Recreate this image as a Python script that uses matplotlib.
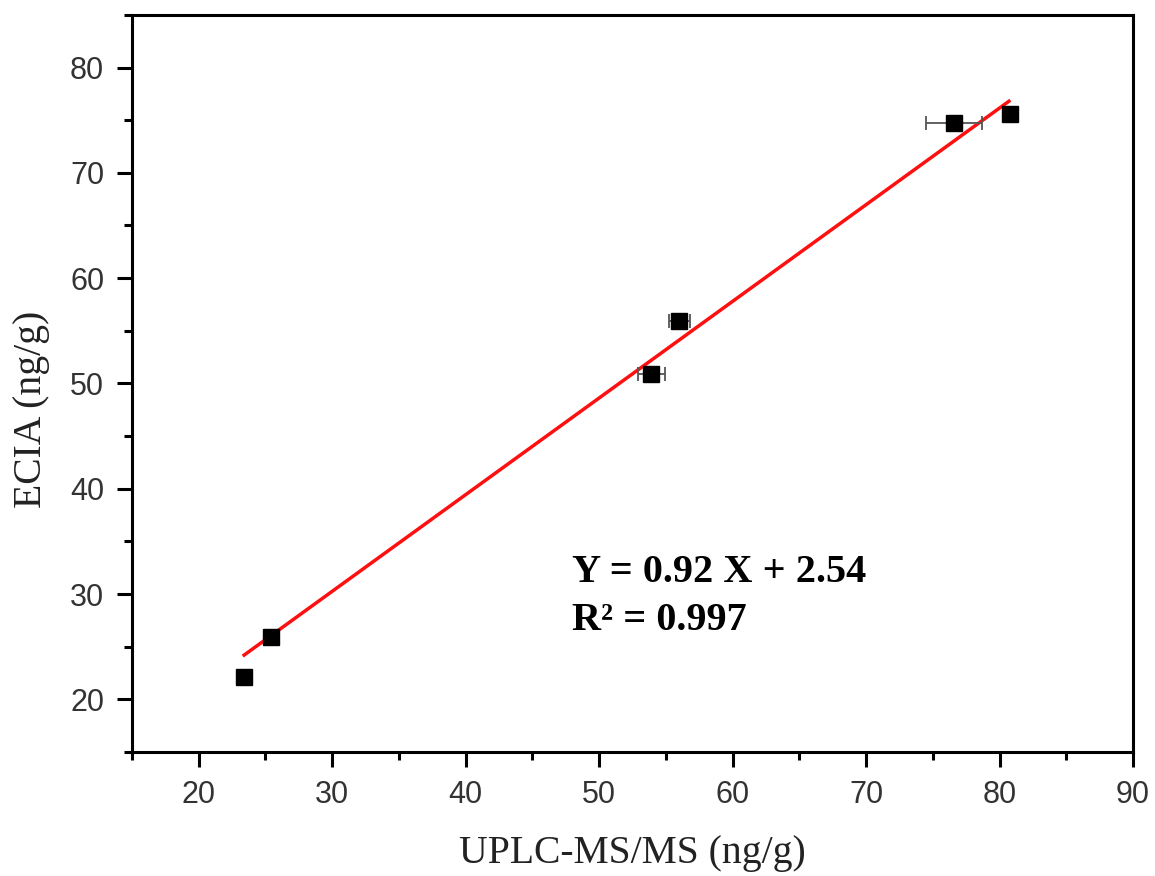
import numpy as np
import matplotlib
matplotlib.use('Agg')
import matplotlib.pyplot as plt
from matplotlib.ticker import MultipleLocator

# UPLC-MS/MS vs ECIA
uplc = [23.4, 25.4, 53.9, 56.0, 76.6, 80.8]
ecia = [22.1, 25.9, 50.9, 55.9, 74.7, 75.6]
uplc_err = [0.0, 0.0, 1.0, 0.8, 2.1, 0.0]
ecia_err = [0.0, 0.0, 0.0, 0.3, 0.0, 0.0]

fit_x = [23.4, 80.7]
fit_y = [24.2, 76.8]

plt.rcParams['font.family'] = ['Liberation Sans', 'DejaVu Sans']
fig = plt.figure(figsize=(11.55, 8.76), dpi=100)
ax = fig.add_axes([0.1143, 0.1416, 0.981 - 0.1143, 0.983 - 0.1416])

ax.plot(fit_x, fit_y, color='#ff1010', lw=2.5, zorder=2)
ax.errorbar(uplc, ecia, xerr=uplc_err, yerr=ecia_err, fmt='s', color='black',
            ms=11.5, ecolor='#555555', elinewidth=1.3, capsize=5, capthick=1.3, zorder=3)

ax.set_xlim(15, 90)
ax.set_ylim(15, 85)
ax.xaxis.set_minor_locator(MultipleLocator(5))
ax.yaxis.set_minor_locator(MultipleLocator(5))
ax.set_xticks([20, 30, 40, 50, 60, 70, 80, 90])
ax.set_yticks([20, 30, 40, 50, 60, 70, 80])

for s in ax.spines.values():
    s.set_linewidth(2.2)
ax.tick_params(which='major', direction='out', length=11, width=2.2,
               labelsize=22, labelcolor='#333333', pad=9)
ax.tick_params(which='minor', direction='out', length=6, width=2.2)
ax.tick_params(top=False, right=False, which='both')

ax.set_xlabel('UPLC-MS/MS (ng/g)', family='Liberation Serif', fontsize=28.5,
              color='#222222')
ax.set_ylabel('ECIA (ng/g)', family='Liberation Serif', fontsize=28.5,
              color='#222222')
ax.xaxis.set_label_coords(0.5, -0.112)
ax.yaxis.set_label_coords(-0.082, 0.465)

ax.text(48.0, 32.0, 'Y = 0.92 X + 2.54', family='Liberation Serif', fontweight='bold',
        fontsize=29, va='center', ha='left')
ax.text(48.0, 27.5, 'R² = 0.997', family='Liberation Serif', fontweight='bold',
        fontsize=29, va='center', ha='left')

fig.savefig('out.png', dpi=100)
